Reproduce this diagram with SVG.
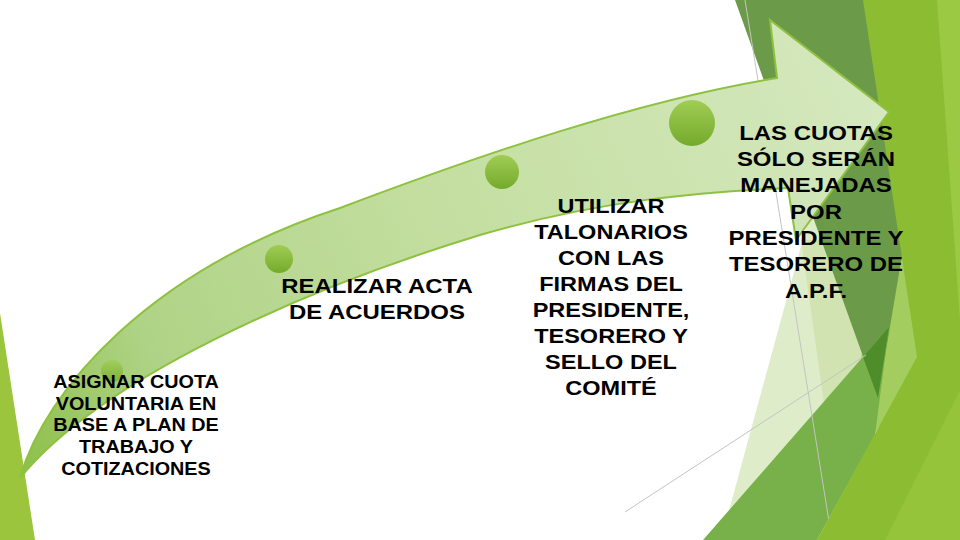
<svg xmlns="http://www.w3.org/2000/svg" width="960" height="540" viewBox="0 0 960 540">
  <defs>
    <linearGradient id="arrowFill" x1="20" y1="478" x2="888" y2="110" gradientUnits="userSpaceOnUse">
      <stop offset="0" stop-color="#8dbf48"/>
      <stop offset="0.18" stop-color="#afd386"/>
      <stop offset="0.5" stop-color="#c3de9f"/>
      <stop offset="1" stop-color="#d5e8bf"/>
    </linearGradient>
    <linearGradient id="dotFill" x1="0" y1="0" x2="0" y2="1">
      <stop offset="0" stop-color="#a0cd55"/>
      <stop offset="1" stop-color="#74aa2b"/>
    </linearGradient>
    <style>
      .lbl { font-family: "Liberation Sans", Arial, sans-serif; font-weight: bold; fill: #000; text-anchor: middle; }
      .big { font-size: 21px; }
      .small { font-size: 18px; }
      .thin { stroke: #c4c4c4; stroke-width: 1; fill: none; }
      .dot { fill: url(#dotFill); }
    </style>
  </defs>

  <rect width="960" height="540" fill="#ffffff"/>

  <g id="background">
    <polygon points="0,313 35,540 0,540" fill="#9bc53d"/>
    <polygon points="721,540 868,0 900,540" fill="#dfecca"/>
    <polygon points="801,240 900,240 832,460" fill="#d0e3b0"/>
    <polygon points="880,230 930,230 925,360 870,440 855,400" fill="#a3cd5f"/>
    <polygon points="735,0 945,0 878,398" fill="#6b9b48"/>
    <polygon points="703,540 889,327 875,435 817,540" fill="#78b049"/>
    <polygon points="863,357 889,327 878,398" fill="#4f8d2a"/>
    <line class="thin" x1="745" y1="0" x2="832" y2="540"/>
    <line class="thin" x1="625" y1="512" x2="866" y2="355"/>
    <polygon points="863,0 960,0 960,540 817,540 917,357" fill="#8cbc31"/>
    <polygon points="937,0 960,0 960,320" fill="#9cc943"/>
    <polygon points="885,540 960,390 960,540" fill="#95c43a"/>
  </g>

  <g id="arrow">
    <path d="M20,478 C45,390 150,270 340,208 C480,155 640,100 777,78 L770,20 L889,112 L796,240 L788,188 C700,192 600,200 480,235 C300,290 100,380 20,478 Z" fill="url(#arrowFill)" stroke="#8dc13f" stroke-width="2" stroke-linejoin="miter"/>
  </g>

  <g id="node1">
    <circle class="dot" cx="112" cy="371" r="11" opacity="0.8"/>
    <g transform="translate(136 0) scale(1.1 1)">
      <text class="lbl small" x="0" y="388">ASIGNAR CUOTA</text>
      <text class="lbl small" x="0" y="410">VOLUNTARIA EN</text>
      <text class="lbl small" x="0" y="431">BASE A PLAN DE</text>
      <text class="lbl small" x="0" y="453">TRABAJO Y</text>
      <text class="lbl small" x="0" y="475">COTIZACIONES</text>
    </g>
  </g>

  <g id="node2">
    <circle class="dot" cx="279" cy="259" r="14"/>
    <g transform="translate(377 0) scale(1.14 1)">
      <text class="lbl big" x="0" y="293">REALIZAR ACTA</text>
      <text class="lbl big" x="0" y="319">DE ACUERDOS</text>
    </g>
  </g>

  <g id="node3">
    <circle class="dot" cx="502" cy="172" r="17"/>
    <g transform="translate(611 0) scale(1.12 1)">
      <text class="lbl big" x="0" y="213">UTILIZAR</text>
      <text class="lbl big" x="0" y="239">TALONARIOS</text>
      <text class="lbl big" x="0" y="265">CON LAS</text>
      <text class="lbl big" x="0" y="291">FIRMAS DEL</text>
      <text class="lbl big" x="0" y="317">PRESIDENTE,</text>
      <text class="lbl big" x="0" y="343">TESORERO Y</text>
      <text class="lbl big" x="0" y="369">SELLO DEL</text>
      <text class="lbl big" x="0" y="395">COMITÉ</text>
    </g>
  </g>

  <g id="node4">
    <circle class="dot" cx="692" cy="123" r="23"/>
    <g transform="translate(816 0) scale(1.14 1)">
      <text class="lbl big" x="0" y="140">LAS CUOTAS</text>
      <text class="lbl big" x="0" y="166">SÓLO SERÁN</text>
      <text class="lbl big" x="0" y="192">MANEJADAS</text>
      <text class="lbl big" x="0" y="219">POR</text>
      <text class="lbl big" x="0" y="245">PRESIDENTE Y</text>
      <text class="lbl big" x="0" y="271">TESORERO DE</text>
      <text class="lbl big" x="0" y="298">A.P.F.</text>
    </g>
  </g>
</svg>
